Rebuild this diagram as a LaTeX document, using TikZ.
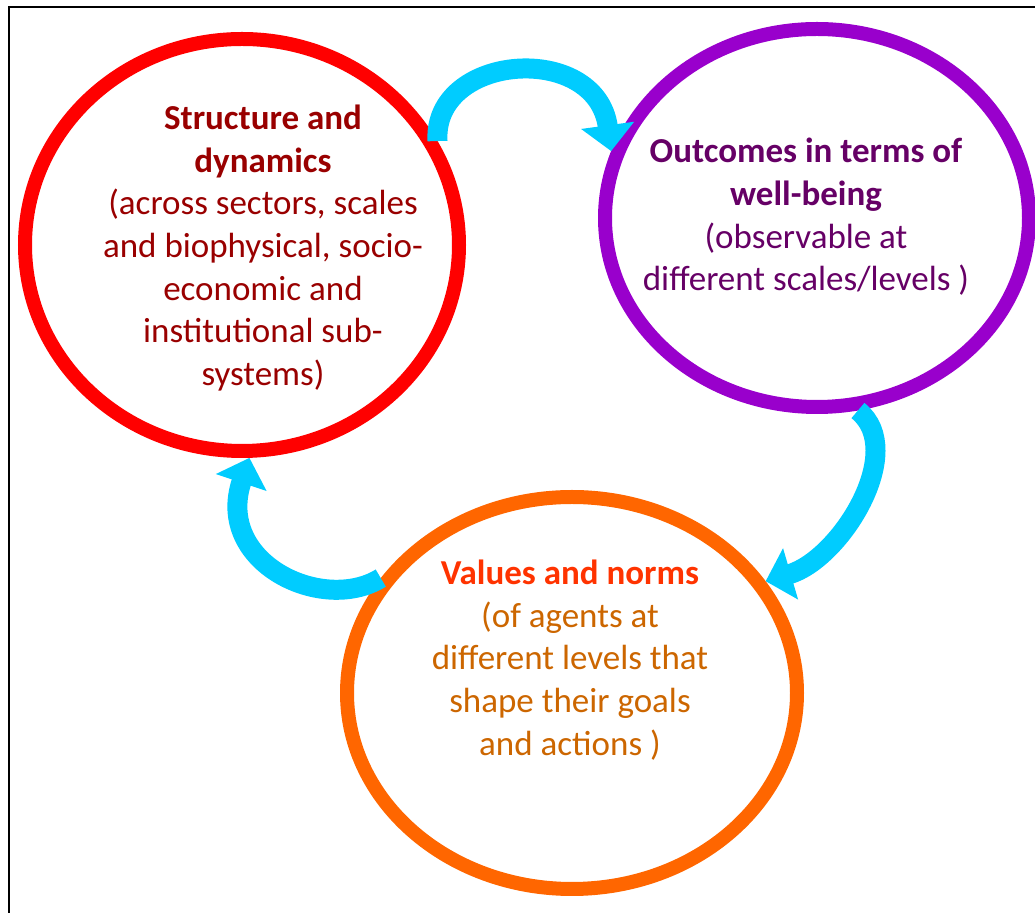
\documentclass[tikz,border=0pt]{standalone}
\usepackage{fontspec}
\setmainfont{Carlito}
\usepackage{tikz}
\usetikzlibrary{shapes.geometric,arrows.meta}
\definecolor{RingRed}{HTML}{FF0000}
\definecolor{RingPurple}{HTML}{9900CC}
\definecolor{RingOrange}{HTML}{FF6600}
\definecolor{TextRed}{HTML}{990000}
\definecolor{TextPurple}{HTML}{660066}
\definecolor{TitleOrange}{HTML}{FF3300}
\definecolor{TextOrange}{HTML}{CC6600}
\definecolor{LoopCyan}{HTML}{00CCFF}

\begin{document}
\begin{tikzpicture}[x=0.5pt, y=-0.5pt,
                    ring/.style={draw=#1, line width=7pt, ellipse},
                    ringtext/.style={text=#1, align=center, inner sep=0pt,
                                     font=\fontsize{17.5}{21.35}\selectfont},
                    flow/.style={color=LoopCyan, line width=10pt,
                                 -{Triangle[length=13pt, width=26pt]}}]
\useasboundingbox (0,0) rectangle (1035,913);
\draw[line width=1.2pt] (9,913) -- (9,7) -- (1035,7);
\node[ring=RingRed, minimum width=217pt, minimum height=206pt] (structure) at (242,245) {};
\node[ring=RingPurple, minimum width=212pt, minimum height=189pt] (outcomes) at (817,218) {};
\node[ring=RingOrange, minimum width=225pt, minimum height=196pt] (values) at (572,693) {};
\node[ringtext=TextRed] (structuretxt) at (263,248)
     {\textbf{Structure and}\\\textbf{dynamics}\\(across sectors, scales\\and biophysical, socio-\\economic and\\institutional sub-\\systems)};
\node[ringtext=TextPurple] (outcomestxt) at (806,217)
     {\textbf{Outcomes in terms of}\\\textbf{well-being}\\(observable at\\different scales/levels )};
\node[ringtext=TextOrange] (valuestxt) at (570,660)
     {\textcolor{TitleOrange}{\textbf{Values and norms}}\\(of agents at\\different levels that\\shape their goals\\and actions )};
\draw[flow] (structure.28) .. controls +(-5,-88) and +(-15,-110) .. (outcomes.162);
\draw[flow] (outcomes.-78) .. controls +(50,40) and +(75,-22) .. (values.30);
\draw[flow] (values.149) .. controls +(-58,36) and +(-35,105) .. (structure.-88);
\end{tikzpicture}
\end{document}
